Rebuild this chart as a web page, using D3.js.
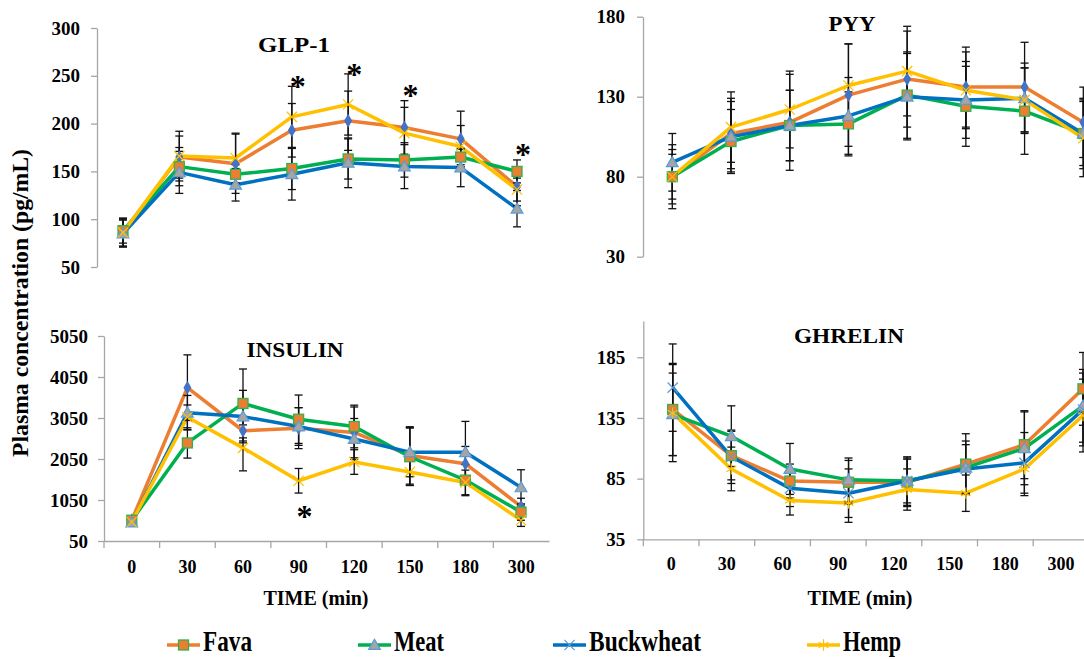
<!DOCTYPE html>
<html>
<head>
<meta charset="utf-8">
<script src="https://cdn.jsdelivr.net/npm/d3@7"></script>
<style>
  body { margin: 0; background: #fff; }
  text { font-family: "Liberation Serif", "Times New Roman", serif; font-weight: bold; fill: #000; }
</style>
</head>
<body>
<svg id="chart" width="1084" height="659"></svg>
<script>
const times = ['0', '30', '60', '90', '120', '150', '180', '300'];
const seriesNames = ['Fava', 'Meat', 'Buckwheat', 'Hemp'];
const lineColors = ['#ED7D31', '#00B050', '#0070C0', '#FFC000'];

// GLP-1
const glpFava = [86, 165, 158, 193, 203, 196, 184, 134];
const glpMeat = [88, 155, 147, 153, 163, 162, 165, 150];
const glpBuck = [85, 149, 136, 147, 159, 155, 154, 111];
const glpHemp = [86, 166, 164, 207, 220, 190, 176, 131];
const glpFavaErr = [14, 22, 31, 28, 31, 28, 29, 20];
const glpMeatErr = [13, 20, 10, 22, 21, 18, 8, 12];
const glpBuckErr = [14, 22, 17, 27, 26, 23, 20, 19];
const glpHempErr = [15, 26, 26, 32, 32, 27, 22, 12];
const glpTicks = [50, 100, 150, 200, 250, 300];
const glpStarTimes = ['90', '120', '150', '300'];
const glpStarVals = [243, 256, 234, 172];

// PYY
const pyyFava = [80, 107, 114, 131, 141, 136, 136, 114];
const pyyMeat = [80, 102, 112, 113, 131, 124, 121, 107];
const pyyBuck = [89, 105, 112, 118, 130, 128, 129, 107];
const pyyHemp = [80, 111, 122, 137, 146, 134, 128, 104];
const pyyFavaErr = [20, 22, 30, 32, 30, 25, 28, 22];
const pyyMeatErr = [17, 20, 22, 20, 27, 25, 27, 20];
const pyyBuckErr = [18, 22, 22, 24, 27, 24, 22, 22];
const pyyHempErr = [14, 22, 24, 26, 28, 24, 20, 24];
const pyyTicks = [30, 80, 130, 180];

// INSULIN
const insFava = [556, 3790, 2739, 2803, 2699, 2137, 1936, 893];
const insMeat = [556, 2442, 3405, 3020, 2843, 2105, 1535, 756];
const insBuck = [500, 3180, 3084, 2843, 2538, 2217, 2217, 1358];
const insHemp = [515, 3068, 2321, 1519, 1976, 1735, 1479, 556];
const insFavaErr = [60, 800, 250, 500, 620, 700, 420, 200];
const insMeatErr = [60, 370, 840, 590, 520, 700, 380, 200];
const insBuckErr = [60, 420, 640, 460, 500, 600, 750, 430];
const insHempErr = [60, 300, 560, 300, 300, 330, 300, 150];
const insTicks = [50, 1050, 2050, 3050, 4050, 5050];
const insStarTimes = ['90'];
const insStarVals = [765];

// GHRELIN
const ghrFava = [142, 104, 83, 82, 82, 97, 113, 159];
const ghrMeat = [138, 120, 93, 84, 83, 94, 110, 145];
const ghrBuck = [160, 103, 77, 73, 83, 93, 98, 142];
const ghrHemp = [139, 93, 67, 65, 76, 73, 93, 137];
const ghrFavaErr = [38, 20, 14, 18, 20, 25, 28, 30];
const ghrMeatErr = [34, 25, 21, 18, 20, 22, 30, 30];
const ghrBuckErr = [36, 22, 15, 20, 18, 20, 25, 30];
const ghrHempErr = [40, 18, 12, 16, 17, 15, 22, 30];
const ghrTicks = [35, 85, 135, 185];

const markersA = ['diamond', 'square', 'triangle', 'x'];
const markersB = ['square', 'triangle', 'x', 'asterisk'];

const svg = d3.select('#chart');

const panels = [
  {
    title: 'GLP-1', titleX: 294, titleY: 52, titleLen: 72,
    values: [glpFava, glpMeat, glpBuck, glpHemp],
    errs: [glpFavaErr, glpMeatErr, glpBuckErr, glpHempErr],
    y: d3.scaleLinear().domain([50, 300]).range([267, 28]),
    ticks: glpTicks, yAxisX: 97, pad: 11,
    px: d3.scalePoint().domain(times).range([123, 517]),
    xAxis: null, markers: markersA,
    stars: [glpStarTimes, glpStarVals]
  },
  {
    title: 'PYY', titleX: 852, titleY: 31, titleLen: 47,
    values: [pyyFava, pyyMeat, pyyBuck, pyyHemp],
    errs: [pyyFavaErr, pyyMeatErr, pyyBuckErr, pyyHempErr],
    y: d3.scaleLinear().domain([30, 180]).range([256.7, 16.7]),
    ticks: pyyTicks, yAxisX: 643, pad: 12,
    px: d3.scalePoint().domain(times).range([672.3, 1083.3]),
    xAxis: null, markers: markersA,
    stars: null
  },
  {
    title: 'INSULIN', titleX: 295, titleY: 357, titleLen: 97,
    values: [insFava, insMeat, insBuck, insHemp],
    errs: [insFavaErr, insMeatErr, insBuckErr, insHempErr],
    y: d3.scaleLinear().domain([50, 5050]).range([541, 336]),
    ticks: insTicks, yAxisX: 104, pad: 10,
    px: d3.scalePoint().domain(times).range([131.8, 521]),
    xAxis: d3.scaleBand().domain(times).range([104, 549]), labelPad: 19,
    markers: markersA,
    stars: [insStarTimes, insStarVals]
  },
  {
    title: 'GHRELIN', titleX: 849, titleY: 343, titleLen: 110,
    values: [ghrFava, ghrMeat, ghrBuck, ghrHemp],
    errs: [ghrFavaErr, ghrMeatErr, ghrBuckErr, ghrHempErr],
    y: d3.scaleLinear().domain([35, 215]).range([539.3, 320.9]),
    ticks: ghrTicks, yAxisX: 643.3, pad: 12,
    px: d3.scalePoint().domain(times).range([672.7, 1083]),
    xAxis: d3.scaleBand().domain(times).range([643.3, 1088.9]), labelPad: 18,
    markers: markersB,
    stars: null
  }
];

function drawMarker(g, type, cx, cy) {
  if (type === 'square') {
    g.append('rect')
      .attr('x', cx - 5).attr('y', cy - 5)
      .attr('width', 10).attr('height', 10)
      .attr('fill', '#ED7D31').attr('stroke', '#2EB34F').attr('stroke-width', 1.3);
  } else if (type === 'diamond') {
    g.append('path')
      .attr('d', d3.symbol(d3.symbolDiamond, 55)())
      .attr('transform', `translate(${cx},${cy})`)
      .attr('fill', '#4472C4');
  } else if (type === 'triangle') {
    g.append('path')
      .attr('d', d3.symbol(d3.symbolTriangle, 60)())
      .attr('transform', `translate(${cx},${cy + 1})`)
      .attr('fill', '#A5A5A5').attr('stroke', '#5B9BD5').attr('stroke-width', 1.2);
  } else if (type === 'x') {
    g.append('path')
      .attr('d', d3.symbol(d3.symbolX, 70)())
      .attr('transform', `translate(${cx},${cy})`)
      .attr('fill', 'none').attr('stroke', g.attr('data-xc') || '#FFC000').attr('stroke-width', 1.2);
  } else if (type === 'asterisk') {
    g.append('path')
      .attr('d', d3.symbol(d3.symbolAsterisk, 90)())
      .attr('transform', `translate(${cx},${cy})`)
      .attr('fill', 'none').attr('stroke', '#FFC000').attr('stroke-width', 1.2);
  }
}

const line = (px, y) => d3.line().x((d, i) => px(times[i])).y(d => y(d));

panels.forEach(p => {
  const g = svg.append('g');

  // y axis
  const yAx = g.append('g')
    .attr('transform', `translate(${p.yAxisX},0)`)
    .call(d3.axisLeft(p.y).tickValues(p.ticks).tickSize(6).tickSizeOuter(0).tickPadding(p.pad).tickFormat(d3.format('d')));
  yAx.selectAll('path, line').attr('stroke', '#A6A6A6').attr('stroke-width', 1.3);
  yAx.selectAll('text').style('font-size', '19px').style('font-family', '"Liberation Serif", serif')
    .style('font-weight', 'bold').attr('fill', '#000');

  // x axis (bottom panels)
  if (p.xAxis) {
    const y0 = p.y.range()[0];
    const xAx = g.append('g')
      .attr('transform', `translate(0,${y0})`)
      .call(d3.axisBottom(p.xAxis).tickSize(0).tickSizeOuter(0).tickPadding(p.labelPad));
    xAx.select('.domain').attr('stroke', '#A6A6A6').attr('stroke-width', 1.3);
    xAx.selectAll('text').style('font-size', '18px').style('font-family', '"Liberation Serif", serif')
      .style('font-weight', 'bold').attr('fill', '#000');
    xAx.selectAll('.tickmark')
      .data(times)
      .enter()
      .append('line')
      .attr('x1', d => p.xAxis(d)).attr('x2', d => p.xAxis(d))
      .attr('y1', 0).attr('y2', 7)
      .attr('stroke', '#A6A6A6').attr('stroke-width', 1.3);
  }

  // title
  g.append('text')
    .attr('x', p.titleX).attr('y', p.titleY)
    .attr('text-anchor', 'middle')
    .attr('textLength', p.titleLen).attr('lengthAdjust', 'spacingAndGlyphs')
    .style('font-size', '22px')
    .text(p.title);

  // lines
  p.values.forEach((vals, s) => {
    g.append('path')
      .datum(vals)
      .attr('d', line(p.px, p.y))
      .attr('fill', 'none')
      .attr('stroke', lineColors[s])
      .attr('stroke-width', 3.5)
      .attr('stroke-linejoin', 'round');
  });

  // error bars
  p.values.forEach((vals, s) => {
    const eg = g.append('g').attr('stroke', '#111').attr('stroke-width', 1.3);
    vals.forEach((v, i) => {
      const cx = p.px(times[i]);
      const e = p.errs[s][i];
      const top = p.y(v + e), bot = p.y(v - e);
      eg.append('line').attr('x1', cx).attr('x2', cx).attr('y1', top).attr('y2', bot);
      eg.append('line').attr('x1', cx - 4).attr('x2', cx + 4).attr('y1', top).attr('y2', top);
      eg.append('line').attr('x1', cx - 4).attr('x2', cx + 4).attr('y1', bot).attr('y2', bot);
    });
  });

  // markers
  p.values.forEach((vals, s) => {
    const mg = g.append('g');
    if (p.markers === markersB && p.markers[s] === 'x') mg.attr('data-xc', '#5B9BD5');
    vals.forEach((v, i) => drawMarker(mg, p.markers[s], p.px(times[i]), p.y(v)));
  });

  // significance stars
  if (p.stars) {
    g.selectAll('.star')
      .data(p.stars[0])
      .enter()
      .append('text')
      .attr('x', d => p.px(d) + 6)
      .attr('y', (d, i) => p.y(p.stars[1][i]) + 15)
      .attr('text-anchor', 'middle')
      .style('font-size', '32px')
      .text('*');
  }
});

// y axis title
svg.append('text')
  .attr('transform', 'translate(28,303) rotate(-90)')
  .attr('text-anchor', 'middle')
  .attr('textLength', 308).attr('lengthAdjust', 'spacingAndGlyphs')
  .style('font-size', '23px')
  .text('Plasma concentration (pg/mL)');

// x axis titles
const timeTitleX = [316, 860];
svg.selectAll('.ttitle')
  .data(timeTitleX)
  .enter()
  .append('text')
  .attr('x', d => d).attr('y', 605)
  .attr('text-anchor', 'middle')
  .style('font-size', '20px')
  .text('TIME (min)');

// legend
const legendX = [167, 358, 553, 807];
const legendTextLen = [49, 50, 112, 58];
const legendMarkers = ['square', 'triangle', 'x', 'asterisk'];
const lg = svg.append('g');
seriesNames.forEach((name, s) => {
  const x0 = legendX[s];
  const item = lg.append('g');
  if (legendMarkers[s] === 'x') item.attr('data-xc', '#5B9BD5');
  item.append('line')
    .attr('x1', x0).attr('x2', x0 + 33).attr('y1', 645).attr('y2', 645)
    .attr('stroke', lineColors[s]).attr('stroke-width', 3.5);
  drawMarker(item, legendMarkers[s], x0 + 16.5, 645);
  item.append('text')
    .attr('x', x0 + 36).attr('y', 651)
    .attr('textLength', legendTextLen[s]).attr('lengthAdjust', 'spacingAndGlyphs')
    .style('font-size', '29px')
    .text(name);
});
</script>
</body>
</html>
